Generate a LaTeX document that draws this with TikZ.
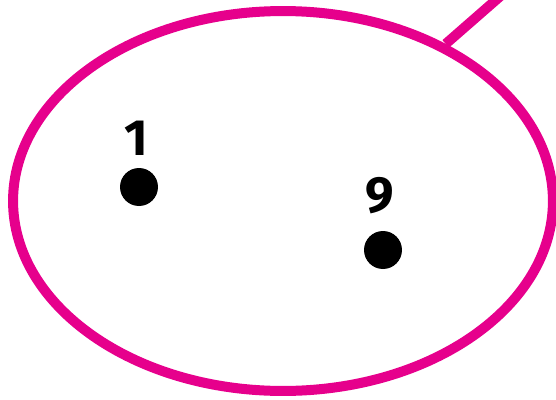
\documentclass[tikz,border=0pt]{standalone}
\usepackage{fontspec}
\setmainfont{Fira Sans}
\usepackage{tikz}
\usetikzlibrary{shapes.geometric, positioning}
\definecolor{setPink}{HTML}{E6008C}

\tikzset{
  elem/.style={circle, fill=black, inner sep=0pt, minimum size=0.76cm},
  elemlabel/.style={font=\fontsize{29}{30}\selectfont\bfseries, inner sep=0pt}
}

\begin{document}
\begin{tikzpicture}[x=0.02cm, y=-0.02cm]
  \useasboundingbox (0,0) rectangle (556,400);
  % the set
  \node[draw=setPink, line width=0.2cm, ellipse, inner sep=0pt,
        minimum width=10.8cm, minimum height=7.6cm] (set) at (283,201) {};
  \coordinate (tail) at (520,-21);
  \draw[setPink, line width=0.2cm] (set.44.5) -- (tail);
  % elements
  \node[elem] (one) at (139,187) {};
  \node[elem] (nine) at (383,250) {};
  \node[elemlabel] (lone) at (136,138) {1};
  \node[elemlabel] (lnine) at (380,196) {9};
\end{tikzpicture}
\end{document}
